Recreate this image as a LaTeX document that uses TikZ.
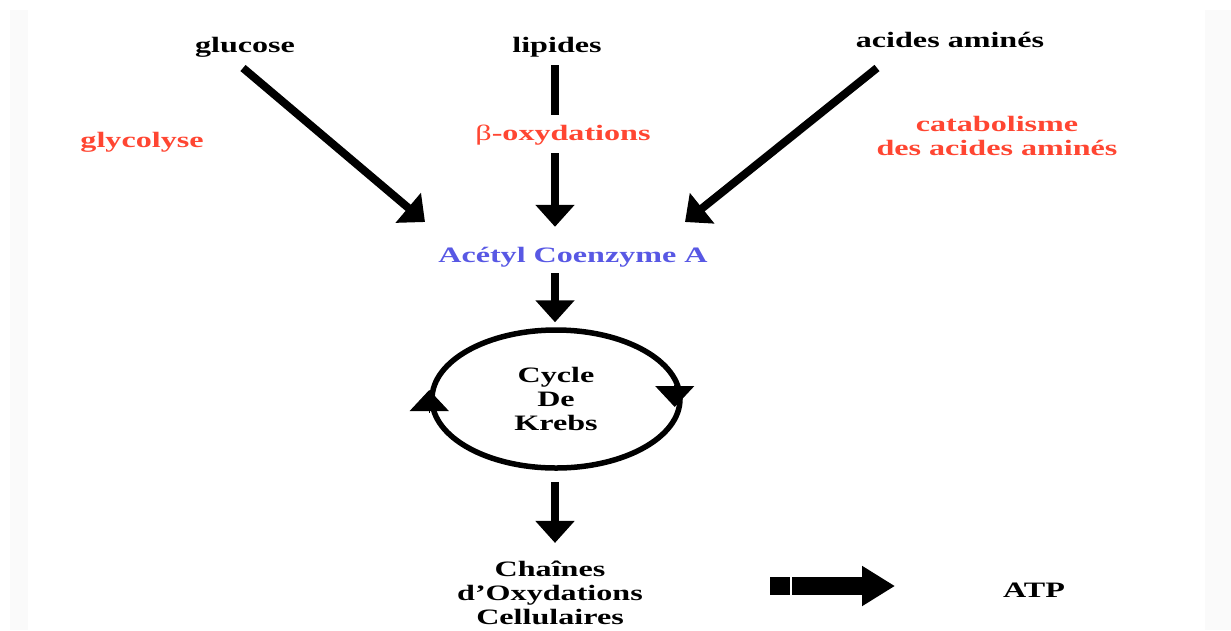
\documentclass[tikz,border=0pt]{standalone}
\usepackage{fontspec}
\setmainfont{Liberation Serif}[FakeStretch=1.46]
\usetikzlibrary{arrows.meta,shapes.geometric}
\definecolor{pathred}{RGB}{255,70,50}
\definecolor{acetylblue}{RGB}{88,88,228}

\begin{document}
\begin{tikzpicture}[x=1pt, y=-1pt,
    every node/.style={font=\fontsize{22}{24}\selectfont\bfseries, align=center, inner sep=2pt},
    word/.style={text height=15pt, text depth=5pt},
    flow/.style={line width=8pt, -{Triangle[width=38pt,length=22pt]}},
    bar/.style={line width=8pt},
    cyctip/.style={line width=1pt, -{Triangle[width=39pt,length=21pt]}}]
    \useasboundingbox (0,0) rectangle (1231,630);
    % faint margins
    \fill[black!2] (10,10) rectangle (28,630);
    \fill[black!2] (1205,10) rectangle (1231,630);
    % sources
    \node[word] (glucose) at (245,47) {glucose};
    \node[word] (lipides) at (557,47) {lipides};
    \node[word] (amines) at (950,42) {acides aminés};
    % pathways
    \node[word, text=pathred] (glycolyse) at (142,142) {glycolyse};
    \node[word, text=pathred] (betaox) at (563,135) {{\mdseries β}-oxydations};
    \node[text=pathred] (catab) at (997,136) {catabolisme\\des acides aminés};
    % acetyl CoA
    \node[word, text=acetylblue] (acetyl) at (573,257) {Acétyl Coenzyme A};
    % Krebs
    \node[draw, ellipse, line width=5.5pt, minimum width=248pt, minimum height=138pt] (krebs) at (556,399) {Cycle\\De\\Krebs};
    \draw[cyctip] ([xshift=-8pt,yshift=14pt]krebs.east) -- ([xshift=-8pt,yshift=-8pt]krebs.east);
    \draw[cyctip] ([yshift=-14pt]krebs.west) -- ([yshift=9pt]krebs.west);
    % chains and ATP
    \node (chaines) at (550,593) {Chaînes\\d'Oxydations\\Cellulaires};
    \node[word] (atp) at (1034,592) {ATP};
    % arrows
    \coordinate (axis) at (555,0);
    \coordinate (glu-start) at (243,68);
    \coordinate (glu-tip) at (425,222);
    \coordinate (ami-start) at (877,68);
    \coordinate (ami-tip) at (685,222);
    \coordinate (fat-start) at (770,586);
    \coordinate (fat-tip) at (895,586);
    \draw[flow] (glu-start) -- (glu-tip);
    \draw[flow] (ami-start) -- (ami-tip);
    \draw[bar, shorten <=6pt, shorten >=8pt] (lipides.south -| axis) -- (betaox.north -| axis);
    \draw[flow, shorten <=6pt, shorten >=18pt] (betaox.south -| axis) -- (acetyl.north -| axis);
    \draw[flow, shorten <=4pt, shorten >=5pt] (acetyl.south -| axis) -- (krebs.north -| axis);
    \draw[flow, shorten <=11pt, shorten >=16pt] (krebs.south -| axis) -- (chaines.north -| axis);
    \draw[line width=18pt, -{Triangle[width=38pt,length=33pt]}] (fat-start) -- (fat-tip);
    \draw[white, line width=1.5pt] (791,577) -- (791,595);
\end{tikzpicture}
\end{document}
